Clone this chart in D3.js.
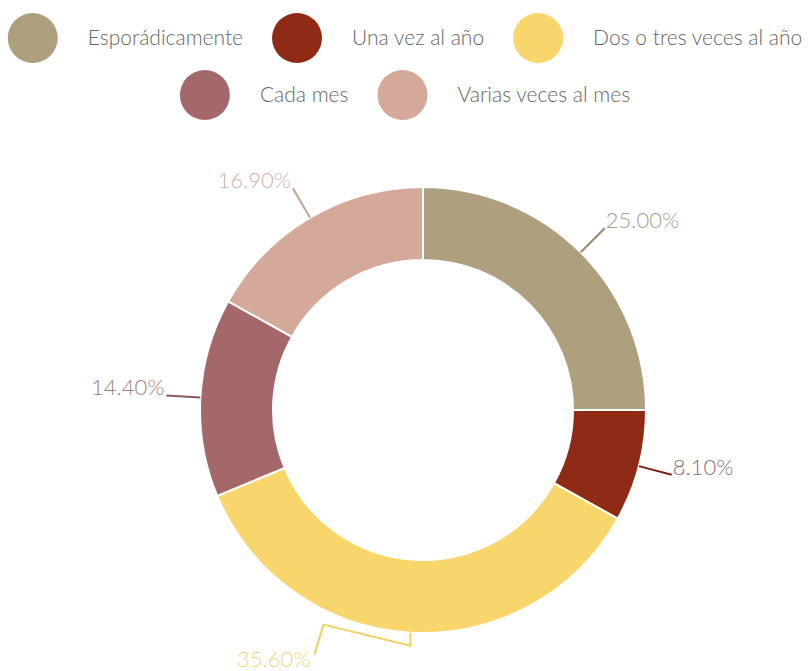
<!DOCTYPE html>
<html>
<head>
<meta charset="utf-8">
<script src="https://cdn.jsdelivr.net/npm/d3@7"></script>
<style>
  html, body { margin: 0; padding: 0; background: #ffffff; }
  svg { display: block; }
  text { font-family: Lato, "Open Sans", sans-serif; font-weight: 300; }
</style>
</head>
<body>
<svg id="chart" width="808" height="671"></svg>
<script>
// Frecuencia de respuesta: categorías y porcentajes
const categories = ["Esporádicamente", "Una vez al año", "Dos o tres veces al año", "Cada mes", "Varias veces al mes"];
const values = [25.0, 8.1, 35.6, 14.4, 16.9];
const valueLabels = ["25.00%", "8.10%", "35.60%", "14.40%", "16.90%"];

const sliceColors = ["#ae9f7f", "#8f2a14", "#f8d66c", "#a4686a", "#d5a999"];
const labelColors = ["#a99b85", "#8e6c6e", "#f2d478", "#9d7d80", "#d5b0a5"];
const leaderColors = ["#9a8b6d", "#7c1f1c", "#f3d062", "#8c575b", "#c9a195"];

const svg = d3.select("#chart");
const W = 808, H = 671;

// ---- Leyenda (dos filas centradas) ----
const legendRows = [[0, 1, 2], [3, 4]];
const legendY = [38, 95];
const dotR = 25, dotGap = 30, itemGap = 29, legendFont = 21;
const legend = svg.append("g").attr("class", "legend");

legendRows.forEach((row, ri) => {
  const g = legend.append("g");
  let x = 0;
  row.forEach((ci, k) => {
    const item = g.append("g").attr("transform", `translate(${x},0)`);
    item.append("circle").attr("cx", dotR).attr("cy", 0).attr("r", dotR).attr("fill", sliceColors[ci]);
    const t = item.append("text")
      .attr("x", dotR * 2 + dotGap).attr("y", 0).attr("dy", "0.35em")
      .attr("font-size", legendFont).attr("fill", "#666666")
      .text(categories[ci]);
    const w = t.node().getComputedTextLength();
    x += dotR * 2 + dotGap + w + (k < row.length - 1 ? itemGap : 0);
  });
  g.attr("transform", `translate(${(W - x) / 2 + 1},${legendY[ri]})`);
});

// ---- Anillo ----
const cx = 423, cy = 410;
const outerR = 223, innerR = 150, labelR = 257;

const pie = d3.pie().sort(null).value(d => d);
const arcs = pie(values);
const arc = d3.arc().innerRadius(innerR).outerRadius(outerR);

const ring = svg.append("g").attr("transform", `translate(${cx},${cy})`);

ring.selectAll("path.slice")
  .data(arcs)
  .join("path")
  .attr("class", "slice")
  .attr("d", arc)
  .attr("fill", (d, i) => sliceColors[i])
  .attr("stroke", "#ffffff")
  .attr("stroke-width", 2);

// Punto sobre un radio dado en el ángulo medio del sector
const polar = (a, r) => [r * Math.sin(a), -r * Math.cos(a)];
const mid = d => (d.startAngle + d.endAngle) / 2;

// La etiqueta inferior se desplaza a la izquierda para no salirse del lienzo
const bottomIdx = 2;

arcs.forEach((d, i) => {
  const a = mid(d);
  const p0 = polar(a, outerR);
  let pts, tx, ty, anchor;
  if (i === bottomIdx) {
    pts = [p0, [p0[0], p0[1] + 13], [p0[0] - 87, p0[1] - 8], [p0[0] - 96, p0[1] + 22]];
    tx = p0[0] - 100; ty = p0[1] + 34; anchor = "end";
  } else {
    const p1 = polar(a, labelR);
    pts = [p0, p1];
    const right = Math.sin(a) > 0;
    tx = p1[0] + (right ? 1 : -2); ty = p1[1];
    anchor = right ? "start" : "end";
  }
  ring.append("path")
    .attr("d", d3.line()(pts))
    .attr("fill", "none")
    .attr("stroke", leaderColors[i])
    .attr("stroke-width", 2);
  ring.append("text")
    .attr("x", tx).attr("y", ty)
    .attr("text-anchor", anchor)
    .attr("font-size", 22)
    .attr("fill", labelColors[i])
    .text(valueLabels[i]);
});
</script>
</body>
</html>
